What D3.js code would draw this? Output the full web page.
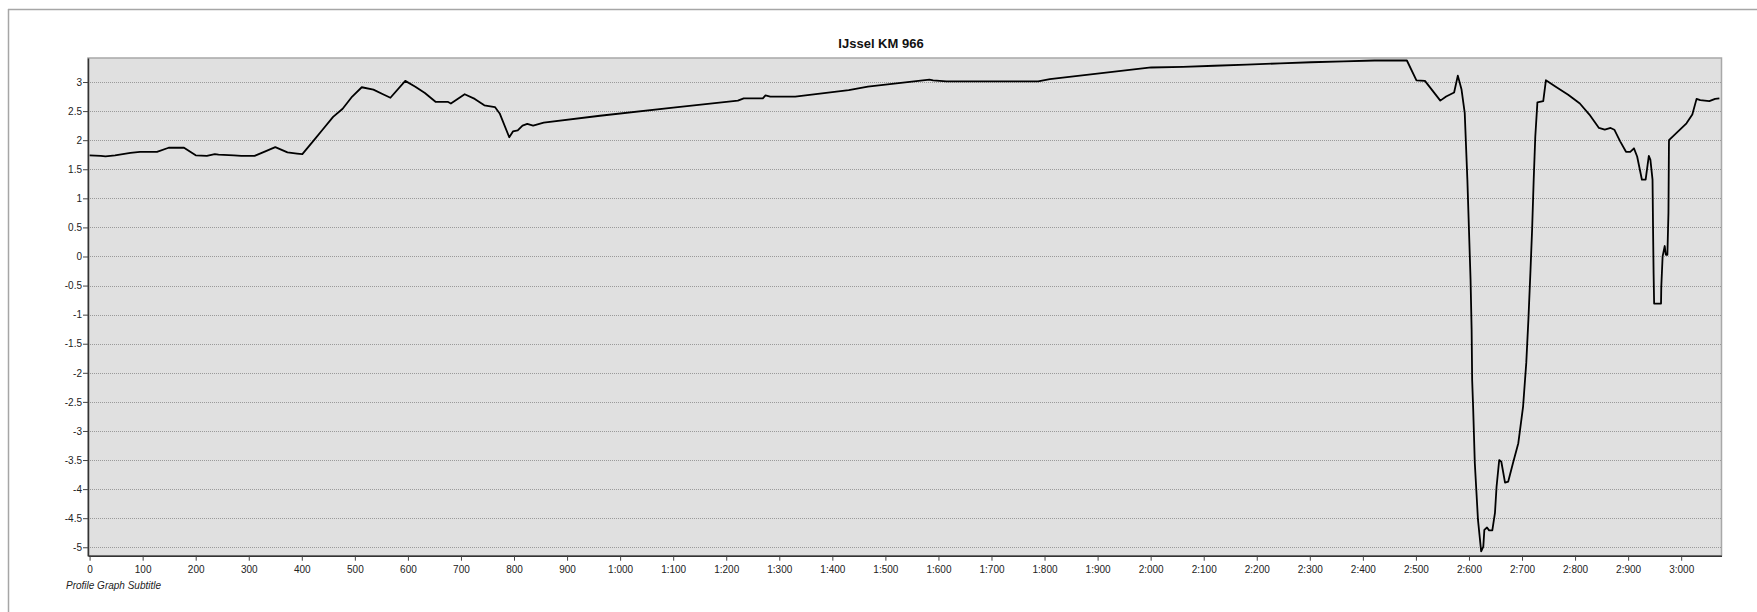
<!DOCTYPE html>
<html>
<head>
<meta charset="utf-8">
<script src="https://cdn.jsdelivr.net/npm/d3@7"></script>
<style>
  body { margin: 0; background: #fff; }
  svg text { font-family: "Liberation Sans", Arial, sans-serif; }
</style>
</head>
<body>
<div id="chart"></div>
<script>
// Profile values
let chartTitle = "IJssel KM 966";
let subtitle = "Profile Graph Subtitle";

let distance = [0, 21, 30, 48, 77, 95, 127, 149, 178, 200, 221, 236, 243, 272, 286, 311,
  329, 350, 373, 391, 401, 423, 441, 459, 477, 495, 513, 535, 553, 567, 595, 614, 632,
  652, 675, 681, 707, 726, 744, 764, 773, 791, 798, 807, 816, 825, 836, 856, 962, 1100,
  1222, 1233, 1269, 1274, 1283, 1330, 1431, 1467, 1583, 1590, 1615, 1788, 1810, 2001,
  2061, 2120, 2181, 2244, 2302, 2364, 2422, 2483, 2501, 2517, 2546, 2557, 2572, 2579,
  2586, 2592, 2597, 2600, 2603, 2605, 2606, 2608, 2611, 2614, 2617, 2623, 2627, 2629,
  2634, 2638, 2644, 2649, 2652, 2657, 2661, 2668, 2674, 2683, 2693, 2702, 2708, 2712,
  2716, 2719, 2722, 2725, 2729, 2740, 2745, 2765, 2787, 2809, 2827, 2845, 2856, 2867,
  2874, 2885, 2896, 2904, 2911, 2917, 2926, 2933, 2939, 2942, 2946, 2947, 2948, 2949,
  2962, 2962.5, 2965, 2969, 2971, 2974, 2976, 2977, 3010, 3021, 3029, 3036, 3053, 3064, 3072];

let elevation = [1.74, 1.73, 1.72, 1.74, 1.78, 1.8, 1.8, 1.87, 1.87, 1.74, 1.73, 1.76,
  1.75, 1.74, 1.73, 1.73, 1.8, 1.88, 1.79, 1.77, 1.76, 2.0, 2.2, 2.4, 2.54, 2.75, 2.91,
  2.87, 2.79, 2.73, 3.02, 2.92, 2.81, 2.66, 2.66, 2.63, 2.79, 2.71, 2.6, 2.57, 2.46,
  2.05, 2.15, 2.17, 2.25, 2.28, 2.25, 2.3, 2.42, 2.56, 2.68, 2.72, 2.72, 2.77, 2.75,
  2.75, 2.86, 2.92, 3.04, 3.03, 3.01, 3.01, 3.05, 3.25, 3.26, 3.28, 3.3, 3.32, 3.34,
  3.355, 3.37, 3.37, 3.03, 3.02, 2.68, 2.75, 2.82, 3.11, 2.87, 2.47, 1.32, 0.46, -0.4,
  -1.26, -2.12, -2.64, -3.55, -4.04, -4.53, -5.07, -4.99, -4.7, -4.66, -4.71, -4.71,
  -4.41, -3.96, -3.5, -3.53, -3.89, -3.87, -3.55, -3.21, -2.58, -1.83, -1.09, -0.23,
  0.46, 1.32, 2.06, 2.65, 2.67, 3.03, 2.91, 2.78, 2.63, 2.44, 2.21, 2.18, 2.21, 2.18,
  1.98, 1.8, 1.8, 1.86, 1.72, 1.32, 1.32, 1.73, 1.66, 1.32, 0.46, -0.29, -0.81, -0.81,
  -0.52, 0.0, 0.18, 0.03, 0.03, 0.75, 2.0, 2.29, 2.44, 2.71, 2.69, 2.67, 2.71, 2.72];

let xTicks = d3.range(0, 3001, 100);
let yTicks = d3.range(-5, 3.01, 0.5);

let totalWidth = 1757,
    totalHeight = 612,
    margin = { top: 58, left: 88, right: 35.5, bottom: 56.3 },
    width = totalWidth - margin.left - margin.right,
    height = totalHeight - margin.top - margin.bottom;

let data = distance.map((d, i) => [d, elevation[i]]);

// "1:000" style labels like the original tool uses
function distFormat(d) {
  if (d < 1000) return String(d);
  return Math.floor(d / 1000) + ":" + String(d % 1000).padStart(3, "0");
}

let svg = d3.select("#chart")
  .append("svg")
    .attr("width", totalWidth)
    .attr("height", totalHeight);

// outer frame (only top and left edges visible)
svg.append("line")
  .attr("x1", 8).attr("x2", totalWidth).attr("y1", 9.5).attr("y2", 9.5)
  .attr("stroke", "#a6a6a6").attr("stroke-width", 1.5);
svg.append("line")
  .attr("x1", 8.5).attr("x2", 8.5).attr("y1", 9).attr("y2", totalHeight)
  .attr("stroke", "#a6a6a6").attr("stroke-width", 1.5);

svg.append("text")
  .attr("x", 881)
  .attr("y", 48)
  .attr("text-anchor", "middle")
  .attr("font-size", 13)
  .attr("font-weight", "bold")
  .attr("fill", "#111")
  .text(chartTitle);

let g = svg.append("g")
  .attr("transform", "translate(" + margin.left + "," + margin.top + ")");

let xScale = d3.scaleLinear()
  .domain([-3, 3076])
  .range([0, width]);

let yScale = d3.scaleLinear()
  .domain([-5.145, 3.413])
  .range([height, 0]);

// plot background
g.append("rect")
  .attr("width", width)
  .attr("height", height)
  .attr("fill", "#e0e0e0")
  .attr("stroke", "#a8a8a8")
  .attr("stroke-width", 1.5);

// dotted grid lines
g.append("g")
  .selectAll("line")
  .data(yTicks)
  .enter().append("line")
    .attr("x1", 0)
    .attr("x2", width)
    .attr("y1", d => Math.round(yScale(d)) + 0.5)
    .attr("y2", d => Math.round(yScale(d)) + 0.5)
    .attr("stroke", "#9a9a9a")
    .attr("stroke-dasharray", "1,1");

// axes
let xAxis = g.append("g")
  .attr("transform", "translate(0," + height + ")")
  .call(d3.axisBottom(xScale).tickValues(xTicks).tickFormat(distFormat).tickSize(5).tickSizeOuter(0));

let yAxis = g.append("g")
  .call(d3.axisLeft(yScale).tickValues(yTicks).tickFormat(d => String(d)).tickSize(5).tickSizeOuter(0));

[xAxis, yAxis].forEach(ax => {
  ax.select(".domain").attr("stroke", "#333").attr("stroke-width", 1.5);
  ax.selectAll(".tick line").attr("stroke", "#444");
  ax.selectAll("text")
    .attr("font-family", "'Liberation Sans', Arial, sans-serif")
    .attr("font-size", 10)
    .attr("fill", "#222");
});
xAxis.selectAll("text").attr("dy", "0.95em");
yAxis.selectAll("text").attr("x", -6);

// the profile line
let line = d3.line()
  .x(d => xScale(d[0]))
  .y(d => yScale(d[1]));

g.append("path")
  .datum(data)
  .attr("fill", "none")
  .attr("stroke", "#000")
  .attr("stroke-width", 1.8)
  .attr("stroke-linejoin", "round")
  .attr("d", line);

svg.append("text")
  .attr("x", 66)
  .attr("y", 589)
  .attr("font-size", 10)
  .attr("font-style", "italic")
  .attr("fill", "#222")
  .text(subtitle);
</script>
</body>
</html>
